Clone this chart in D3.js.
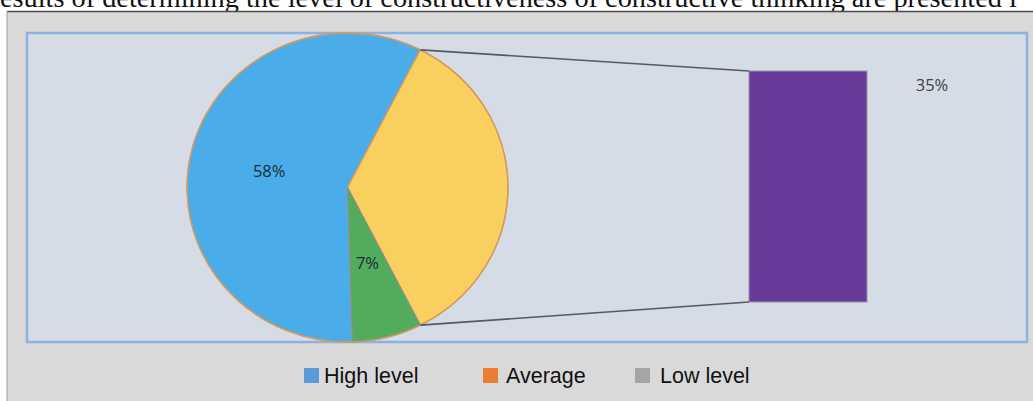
<!DOCTYPE html>
<html>
<head>
<meta charset="utf-8">
<script src="https://cdn.jsdelivr.net/npm/d3@7/dist/d3.min.js"></script>
<style>
  html, body { margin: 0; padding: 0; background: #ffffff; }
  svg { display: block; }
</style>
</head>
<body>
<svg id="chart" width="1033" height="401"></svg>
<script>
// ---- data ----
const categories = ["High level", "Average", "Low level"];
const shares = [58, 35, 7];                 // percent of respondents
const splitCategory = "Average";            // slice expanded into the bar
const sliceColors = ["#4aadea", "#f9cf60", "#52ac5b"];
const legendColors = ["#5b9bd5", "#ed7d31", "#a5a5a5"];
const captionText = "esults of determining the level of constructiveness of constructive thinking are presented i";

// ---- layout ----
const W = 1033, H = 401;
const frame = { x: 7, y: 11.5 };
const plot = { x: 27, y: 33, w: 1000, h: 309 };
const pieC = { cx: 347.5, cy: 187.5, rx: 160.5, ry: 154.5 };
const bar = { x: 749, w: 118, top: 71, bottom: 302 };
const legendX = [304, 483, 635];
const legendTextX = [324, 506, 660];
const legendY = 368;

const svg = d3.select("#chart");

// caption line above the figure
svg.append("text")
  .attr("x", 0).attr("y", 6.5)
  .attr("font-family", "'Liberation Serif', 'Times New Roman', serif")
  .attr("font-size", 28.3)
  .attr("fill", "#111")
  .text(captionText);

// outer chart area
svg.append("rect")
  .attr("x", frame.x).attr("y", frame.y)
  .attr("width", W - frame.x).attr("height", H - frame.y)
  .attr("fill", "#d9d9d9");
svg.append("line")
  .attr("x1", frame.x).attr("x2", W)
  .attr("y1", frame.y).attr("y2", frame.y)
  .attr("stroke", "#4a4a4a").attr("stroke-width", 1.5);
svg.append("line")
  .attr("x1", frame.x).attr("x2", frame.x)
  .attr("y1", frame.y).attr("y2", H)
  .attr("stroke", "#a8a8a8").attr("stroke-width", 1.2);

// plot area
svg.append("rect")
  .attr("x", plot.x).attr("y", plot.y)
  .attr("width", plot.w).attr("height", plot.h)
  .attr("fill", "#d5dce6")
  .attr("stroke", "#8cb3e0").attr("stroke-width", 2.5);

// ---- pie ----
const splitIdx = categories.indexOf(splitCategory);
const total = d3.sum(shares);
const toAngle = v => v / total * 2 * Math.PI;
// rotate so the split slice is centred on the right (3 o'clock)
const before = d3.sum(shares.slice(0, splitIdx));
const startAngle = Math.PI / 2 - toAngle(shares[splitIdx]) / 2 - toAngle(before);

const pie = d3.pie().sort(null).value(d => d)
  .startAngle(startAngle).endAngle(startAngle + 2 * Math.PI);
const arcs = pie(shares);

const r = pieC.rx;
const sy = pieC.ry / pieC.rx;
const arc = d3.arc().innerRadius(0).outerRadius(r);
const labelArc = d3.arc().innerRadius(0).outerRadius(r);

const pieG = svg.append("g")
  .attr("transform", `translate(${pieC.cx},${pieC.cy}) scale(1,${sy})`);

pieG.selectAll("path")
  .data(arcs)
  .join("path")
  .attr("d", arc)
  .attr("fill", (d, i) => sliceColors[i])
  .attr("stroke", (d, i) => i === categories.length - 1 ? "#8a8f8a" : "#d49a5c")
  .attr("stroke-width", 1.3)
  .attr("stroke-linejoin", "round");

// outer rim
pieG.append("ellipse")
  .attr("rx", r).attr("ry", r)
  .attr("fill", "none")
  .attr("stroke", "#d49a5c").attr("stroke-width", 1.3);

// pie labels (skip the split slice, shown next to the bar)
arcs.forEach((d, i) => {
  if (i === splitIdx) return;
  const [lx, ly] = labelArc.centroid(d);
  svg.append("text")
    .attr("x", pieC.cx + lx)
    .attr("y", pieC.cy + ly * sy)
    .attr("text-anchor", "middle")
    .attr("dominant-baseline", "central")
    .attr("font-family", "'Open Sans', 'DejaVu Sans', sans-serif")
    .attr("font-size", 16.5)
    .attr("fill", "#1d2b3a")
    .text(d.data + "%");
});

// ---- bar of the split slice ----
const yBar = d3.scaleLinear().domain([0, shares[splitIdx]]).range([bar.bottom, bar.top]);

svg.append("rect")
  .attr("x", bar.x)
  .attr("y", yBar(shares[splitIdx]))
  .attr("width", bar.w)
  .attr("height", yBar(0) - yBar(shares[splitIdx]))
  .attr("fill", "#673a99")
  .attr("stroke", "#9a8fa8").attr("stroke-width", 1);

svg.append("text")
  .attr("x", bar.x + bar.w + 65)
  .attr("y", yBar(shares[splitIdx]) + 13)
  .attr("text-anchor", "middle")
  .attr("dominant-baseline", "central")
  .attr("font-family", "'Open Sans', 'DejaVu Sans', sans-serif")
  .attr("font-size", 16.5)
  .attr("fill", "#404040")
  .text(shares[splitIdx] + "%");

// connector lines from the split slice edges to the bar corners
const edgePoint = a => [pieC.cx + pieC.rx * Math.sin(a), pieC.cy - pieC.ry * Math.cos(a)];
const split = arcs[splitIdx];
const pTop = edgePoint(split.startAngle);
const pBot = edgePoint(split.endAngle);
[[pTop, [bar.x, yBar(shares[splitIdx])]], [pBot, [bar.x, yBar(0)]]].forEach(([a, b]) => {
  svg.append("line")
    .attr("x1", a[0]).attr("y1", a[1])
    .attr("x2", b[0]).attr("y2", b[1])
    .attr("stroke", "#555a60").attr("stroke-width", 1.6);
});

// ---- legend ----
const legend = svg.append("g");
categories.forEach((c, i) => {
  legend.append("rect")
    .attr("x", legendX[i]).attr("y", legendY)
    .attr("width", 15).attr("height", 15)
    .attr("fill", legendColors[i]);
  legend.append("text")
    .attr("x", legendTextX[i])
    .attr("y", legendY + 15)
    .attr("font-family", "'Liberation Sans', Arial, sans-serif")
    .attr("font-size", 21.5)
    .attr("fill", "#111")
    .text(c);
});
</script>
</body>
</html>
